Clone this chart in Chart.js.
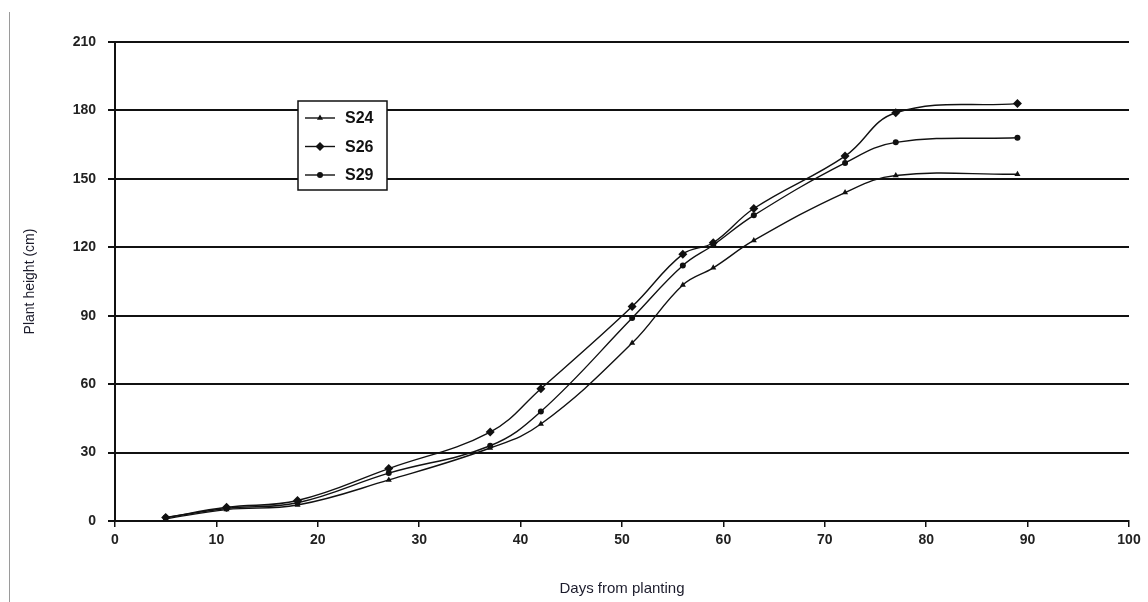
<!DOCTYPE html>
<html>
<head>
<meta charset="utf-8">
<script src="https://cdn.jsdelivr.net/npm/chart.js@4.4.1/dist/chart.umd.min.js"></script>
<style>
    html, body { margin: 0; padding: 0; background: #fff; }
    #wrap { position: relative; width: 1148px; height: 602px; }
    #frame { position: absolute; left: 9px; top: 12px; bottom: 0; border-left: 1px solid #9a9a9a; }
    canvas { position: absolute; left: 0; top: 0; }
</style>
</head>
<body>
<div id="wrap">
    <div id="frame"></div>
    <canvas id="growthChart" width="1148" height="602"></canvas>
</div>
<script>
// --- Data ---
const days = [5, 11, 18, 27, 37, 42, 51, 56, 59, 63, 72, 77, 89];
const s24 = [1, 5, 7, 18, 32, 42.5, 78, 103.5, 111, 123, 144, 151.5, 152];
const s26 = [1.5, 6, 9, 23, 39, 58, 94, 117, 122, 137, 160, 179, 183];
const s29 = [1.5, 5.5, 8, 21, 33, 48, 89, 112, 121, 134, 157, 166, 168];
const yTicks = [0, 30, 60, 90, 120, 150, 180, 210];
const xTicks = [0, 10, 20, 30, 40, 50, 60, 70, 80, 90, 100];

const FONT = "'Liberation Sans', Arial, sans-serif";

function toPoints(values) {
    return days.map((d, i) => ({ x: d, y: values[i] }));
}

function makeSet(label, values, style, radius) {
    return {
        label: label,
        data: toPoints(values),
        showLine: true,
        borderColor: '#111',
        backgroundColor: '#111',
        borderWidth: 1.4,
        tension: 0.4,
        pointStyle: style,
        pointRadius: radius,
        pointBorderWidth: 0
    };
}

// Boxed legend drawn inside the plot, like the original
const boxLegend = {
    id: 'boxLegend',
    afterDraw(chart) {
        const ctx = chart.ctx;
        const x0 = 298, y0 = 101, w = 89, h = 89;
        ctx.save();
        ctx.fillStyle = '#fff';
        ctx.fillRect(x0, y0, w, h);
        ctx.strokeStyle = '#111';
        ctx.lineWidth = 1.5;
        ctx.strokeRect(x0, y0, w, h);
        chart.data.datasets.forEach((ds, i) => {
            const cy = y0 + 17 + i * 28.5;
            ctx.strokeStyle = '#111';
            ctx.fillStyle = '#111';
            ctx.lineWidth = 1.4;
            ctx.setLineDash([]);
            ctx.beginPath();
            ctx.moveTo(x0 + 7, cy);
            ctx.lineTo(x0 + 37, cy);
            ctx.stroke();
            Chart.helpers.drawPoint(ctx, {
                pointStyle: ds.pointStyle,
                radius: ds.pointRadius,
                borderWidth: 0
            }, x0 + 22, cy);
            ctx.fillStyle = '#111';
            ctx.font = 'bold 16px ' + FONT;
            ctx.textBaseline = 'middle';
            ctx.fillText(ds.label, x0 + 47, cy + 1);
        });
        ctx.restore();
    }
};

const ctx = document.getElementById('growthChart');

new Chart(ctx, {
    type: 'scatter',
    data: {
        datasets: [
            makeSet('S24', s24, 'triangle', 3.5),
            makeSet('S26', s26, 'rectRot', 4.5),
            makeSet('S29', s29, 'circle', 3)
        ]
    },
    options: {
        responsive: false,
        animation: false,
        layout: { padding: { left: 0, right: 19, top: 42, bottom: 0 } },
        plugins: {
            legend: { display: false },
            tooltip: { enabled: false }
        },
        scales: {
            x: {
                type: 'linear',
                min: 0,
                max: 100,
                afterBuildTicks: (scale) => { scale.ticks = xTicks.map(v => ({ value: v })); },
                afterFit: (scale) => { scale.height = 81; },
                border: { display: true, color: '#111', width: 2 },
                grid: { drawOnChartArea: false, color: '#111', lineWidth: 1.5, tickLength: 6 },
                ticks: { color: '#222', font: { family: FONT, size: 14, weight: 'bold' }, padding: 5 },
                title: {
                    display: true,
                    text: 'Days from planting',
                    color: '#1c1c2c',
                    font: { family: FONT, size: 15 },
                    padding: { top: 10 }
                }
            },
            y: {
                min: 0,
                max: 210,
                afterBuildTicks: (scale) => { scale.ticks = yTicks.map(v => ({ value: v })); },
                afterFit: (scale) => { scale.width = 115; },
                border: { display: true, color: '#111', width: 2 },
                grid: { color: '#111', lineWidth: 2, tickLength: 7 },
                ticks: { color: '#222', font: { family: FONT, size: 14, weight: 'bold' }, padding: 12 },
                title: {
                    display: true,
                    text: 'Plant height (cm)',
                    color: '#1c1c2c',
                    font: { family: FONT, size: 14 },
                    padding: { top: 22, bottom: 4 }
                }
            }
        }
    },
    plugins: [boxLegend]
});
</script>
</body>
</html>
